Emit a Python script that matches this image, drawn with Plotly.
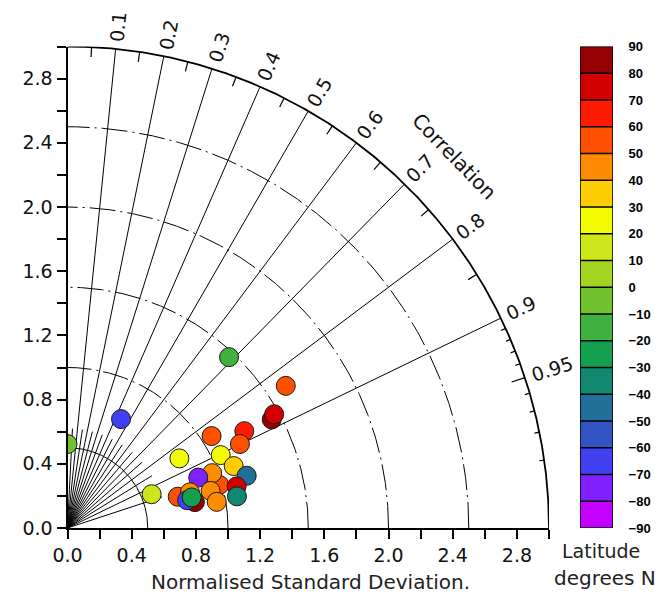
import numpy as np
import plotly.graph_objects as go

# ---------------- data ----------------
lat = [85, 75, -15, -65, -5, 55, 65, 55, 55, 25, 25, 35, -45, 55, 45, -75,
       75, 45, -35, 45, 15, 55, 45, 85, -65, -25]
std = [1.441, 1.470, 1.465, 0.756, 0.523, 1.623, 1.256, 1.195, 1.065, 0.821,
       1.057, 1.105, 1.163, 0.983, 0.964, 0.873, 1.085, 0.921, 1.074, 0.944,
       0.565, 0.714, 0.795, 0.810, 0.765, 0.797]
corr = [0.883, 0.876, 0.687, 0.441, 0.0, 0.838, 0.877, 0.899, 0.843, 0.849,
        0.903, 0.937, 0.960, 0.962, 0.935, 0.933, 0.971, 0.968, 0.983, 0.985,
        0.928, 0.962, 0.960, 0.980, 0.974, 0.971]

corr_major = [0.1, 0.2, 0.3, 0.4, 0.5, 0.6, 0.7, 0.8, 0.9]
corr_labels = ["0.1", "0.2", "0.3", "0.4", "0.5", "0.6", "0.7", "0.8", "0.9", "0.95"]
corr_label_vals = [0.1, 0.2, 0.3, 0.4, 0.5, 0.6, 0.7, 0.8, 0.9, 0.95]
corr_short = [0.05, 0.15, 0.25, 0.35, 0.45, 0.55, 0.65, 0.75, 0.85, 0.95]
corr_minor_ticks = [0.05, 0.15, 0.25, 0.35, 0.45, 0.55, 0.65, 0.75, 0.85]
corr_fine_ticks = [0.91, 0.92, 0.93, 0.94, 0.96, 0.97, 0.98, 0.99]
std_arcs_dashed = [1.0, 1.5, 2.0, 2.5]
std_arc_solid = [0.5]
std_max = 3.0
axis_ticks = [0.0, 0.4, 0.8, 1.2, 1.6, 2.0, 2.4, 2.8]
axis_minor = [0.2, 0.6, 1.0, 1.4, 1.8, 2.2, 2.6, 3.0]

lat_edges = list(range(-90, 91, 10))
lat_colors = ["#c400ff", "#8020ff", "#4141f2", "#3354c4", "#22709a", "#12886e",
              "#14a04e", "#40b03f", "#72c22f", "#a3d522", "#cce619", "#f3fb00",
              "#ffcd00", "#ff8c00", "#ff5000", "#ff1a00", "#d20000", "#970000"]

# ---------------- geometry ----------------
W, H = 661, 595
OX, OY, S = 67.5, 528.0, 160.5          # origin pixel & px per unit
FONT = "DejaVu Sans"


def to_paper(x, y):
    return (OX + S * x) / W, (H - OY + S * y) / H


n = len(lat_colors)
cscale = []
for i, c in enumerate(lat_colors):
    cscale.append([i / n, c])
    cscale.append([(i + 1) / n, c])

fig = go.Figure()


def add_line(x, y, width=1.0, dash="solid", color="black"):
    fig.add_trace(go.Scatter(x=x, y=y, mode="lines", hoverinfo="skip",
                             showlegend=False,
                             line=dict(color=color, width=width, dash=dash)))


t = np.linspace(0, np.pi / 2, 400)
for r in std_arcs_dashed:
    add_line(r * np.cos(t), r * np.sin(t), 1.0, "26px,5px,2px,5px")
for r in std_arc_solid:
    add_line(r * np.cos(t), r * np.sin(t), 1.0)

# full correlation rays
for c in corr_major:
    a = np.arccos(c)
    add_line([0, std_max * np.cos(a)], [0, std_max * np.sin(a)], 1.0)
# short rays near origin
r_short = 0.62
for c in corr_short:
    a = np.arccos(c)
    add_line([0, r_short * np.cos(a)], [0, r_short * np.sin(a)], 1.0)
# ticks on outer arc
tick_len_minor = 10 / S
tick_len_fine = 5 / S
for c in corr_minor_ticks:
    a = np.arccos(c)
    r0 = std_max - tick_len_minor
    add_line([r0 * np.cos(a), std_max * np.cos(a)], [r0 * np.sin(a), std_max * np.sin(a)], 1.2)
for c in corr_fine_ticks:
    a = np.arccos(c)
    r0 = std_max - tick_len_fine
    add_line([r0 * np.cos(a), std_max * np.cos(a)], [r0 * np.sin(a), std_max * np.sin(a)], 1.2)
a95 = np.arccos(0.95)
r0 = std_max - 14 / S
add_line([r0 * np.cos(a95), std_max * np.cos(a95)], [r0 * np.sin(a95), std_max * np.sin(a95)], 1.2)

# outer arc
add_line(std_max * np.cos(t), std_max * np.sin(t), 1.8)

# data points
ang = np.arccos(np.array(corr))
xs = np.array(std) * np.cos(ang)
ys = np.array(std) * np.sin(ang)
fig.add_trace(go.Scatter(
    x=xs, y=ys, mode="markers", showlegend=False, hoverinfo="skip",
    marker=dict(size=19, color=lat, colorscale=cscale, cmin=-90, cmax=90,
                line=dict(color="#1a1a1a", width=1)),
    cliponaxis=True))

# colorbar as heatmap
centers = [(lat_edges[i] + lat_edges[i + 1]) / 2 for i in range(n)]
fig.add_trace(go.Heatmap(z=[[v] for v in centers], x=[0], y=centers,
                         colorscale=cscale, zmin=-90, zmax=90, showscale=False,
                         hoverinfo="skip", xaxis="x2", yaxis="y2"))
shapes = []
for e in lat_edges[1:-1]:
    shapes.append(dict(type="line", xref="x2", yref="y2", x0=-0.5, x1=0.5,
                       y0=e, y1=e, line=dict(color="black", width=1.3)))
shapes.append(dict(type="rect", xref="x2", yref="y2", x0=-0.5, x1=0.5,
                   y0=-90, y1=90, line=dict(color="black", width=1.5)))

# annotations
ann = []
for c, txt in zip(corr_label_vals, corr_labels):
    a = np.arccos(c)
    tw = sum(12.1 if ch.isdigit() else 6.0 for ch in txt)
    rc = std_max + (7 + 0.5 * tw) / S
    px, py = to_paper(rc * np.cos(a), rc * np.sin(a))
    ann.append(dict(x=px, y=py, xref="paper", yref="paper",
                    text=txt, showarrow=False, textangle=-np.degrees(a),
                    xanchor="center", yanchor="middle",
                    font=dict(family=FONT, size=19, color="#111")))
ac = np.radians(43.9)
rc = 3.34
px, py = to_paper(rc * np.cos(ac), rc * np.sin(ac))
ann.append(dict(x=px, y=py, xref="paper", yref="paper",
                text="Correlation", showarrow=False, textangle=46,
                xanchor="center", yanchor="middle",
                font=dict(family=FONT, size=20, color="#111")))
ann.append(dict(x=310 / W, y=(H - 582) / H, xref="paper", yref="paper",
                text="Normalised Standard Deviation.", showarrow=False,
                xanchor="center", yanchor="middle",
                font=dict(family=FONT, size=20, color="#222")))
ann.append(dict(x=601 / W, y=(H - 551) / H, xref="paper", yref="paper",
                text="Latitude", showarrow=False, xanchor="center", yanchor="middle",
                font=dict(family=FONT, size=19, color="#222")))
ann.append(dict(x=605 / W, y=(H - 578) / H, xref="paper", yref="paper",
                text="degrees N", showarrow=False, xanchor="center", yanchor="middle",
                font=dict(family=FONT, size=20, color="#222")))

axis_common = dict(range=[0, std_max], showline=True, linecolor="black", linewidth=2,
                   ticks="outside", ticklen=9, tickwidth=1.5, tickcolor="black",
                   tickvals=axis_ticks, ticktext=[f"{v:.1f}" for v in axis_ticks],
                   minor=dict(tickvals=axis_minor, ticks="outside", ticklen=9,
                              tickwidth=1.5, tickcolor="black", showgrid=False),
                   showgrid=False, zeroline=False, automargin=False, fixedrange=True,
                   tickfont=dict(family=FONT, size=19, color="#111"))

fig.update_layout(
    width=W, height=H, margin=dict(l=0, r=0, t=0, b=0),
    paper_bgcolor="white", plot_bgcolor="white",
    xaxis=dict(domain=[OX / W, (OX + S * std_max) / W], anchor="y", **axis_common),
    yaxis=dict(domain=[(H - OY) / H, (H - OY + S * std_max) / H], anchor="x", **axis_common),
    xaxis2=dict(domain=[580 / W, 613 / W], range=[-0.5, 0.5], visible=False,
                anchor="y2", fixedrange=True),
    yaxis2=dict(domain=[(H - OY) / H, (H - OY + S * std_max) / H], range=[-90, 90],
                side="right", anchor="x2", tickvals=lat_edges,
                ticks="outside", ticklen=12, tickcolor="rgba(0,0,0,0)",
                showline=False, showgrid=False, zeroline=False, automargin=False,
                fixedrange=True,
                tickfont=dict(family="Liberation Sans", size=13, color="black", weight="bold")),
    shapes=shapes, annotations=ann,
)

fig.write_html("out.html", config={"displayModeBar": False},
               post_script="document.body.style.margin='0';document.body.style.padding='0';"
                           "document.body.style.overflow='hidden';")
